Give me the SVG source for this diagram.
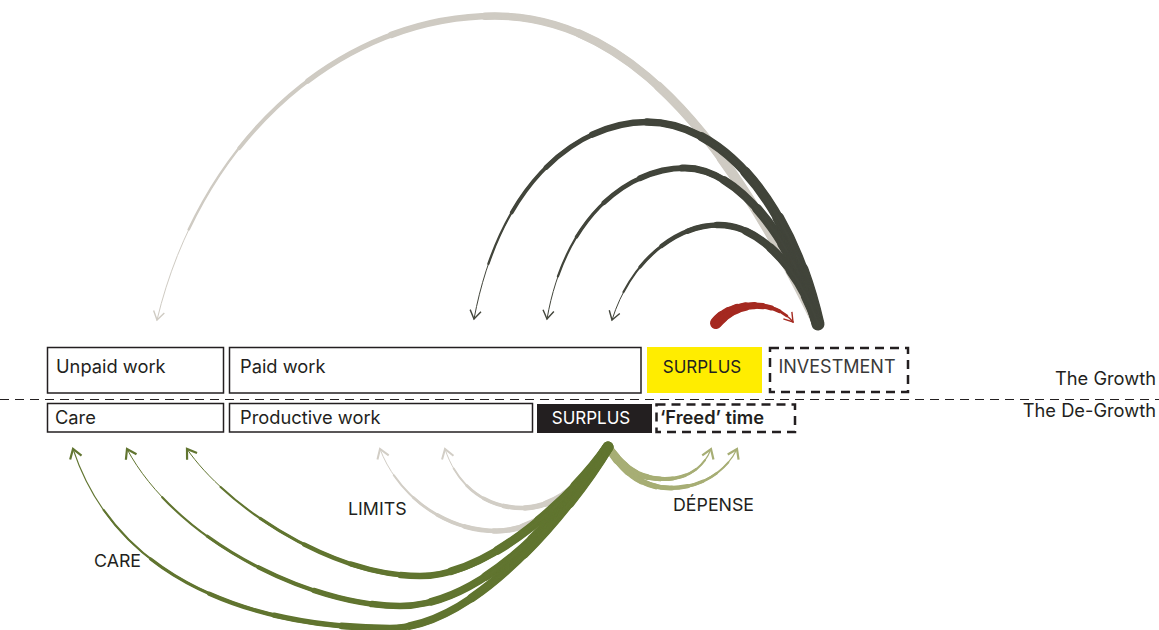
<svg xmlns="http://www.w3.org/2000/svg" width="1159" height="630" viewBox="0 0 1159 630">
<style>
.t{font-family:Inter,'Liberation Sans',Arial,sans-serif;font-size:18.3px;fill:#231f20}
.cap{font-size:17.8px}
.box{fill:#fff;stroke:#231f20;stroke-width:1.5}
.dbox{fill:none;stroke:#231f20;stroke-width:2.5;stroke-dasharray:9 6}
.c{fill:none;stroke-linecap:round;stroke-linejoin:round}
.lt{stroke:#cfcbc3}.dk{stroke:#42453b}.rd{stroke:#a52a21}.gr{stroke:#617530}.lm{stroke:#d2cec6}.dp{stroke:#a7ae75}
.s1{stroke-dasharray:10 300}.s2{stroke-dasharray:20 300}.s3{stroke-dasharray:30 300}
.s4{stroke-dasharray:40 300}.s5{stroke-dasharray:50 300}.s6{stroke-dasharray:60 300}
.s7{stroke-dasharray:70 300}.s8{stroke-dasharray:80 300}.s9{stroke-dasharray:90 300}
</style>
<defs>
<marker id="ah-lt" viewBox="-12 -8 14 16" refX="0" refY="0" markerWidth="14" markerHeight="16" markerUnits="userSpaceOnUse" orient="auto" overflow="visible"><path d="M-8.5,-5.5L0,0L-8.5,5.5" fill="none" stroke="#cfcbc3" stroke-width="1.4"/></marker>
<marker id="ah-dk" viewBox="-12 -8 14 16" refX="0" refY="0" markerWidth="14" markerHeight="16" markerUnits="userSpaceOnUse" orient="auto" overflow="visible"><path d="M-8.5,-5.5L0,0L-8.5,5.5" fill="none" stroke="#42453b" stroke-width="1.4"/></marker>
<marker id="ah-rd" viewBox="-12 -8 14 16" refX="0" refY="0" markerWidth="14" markerHeight="16" markerUnits="userSpaceOnUse" orient="auto" overflow="visible"><path d="M-8.5,-5.5L0,0L-8.5,5.5" fill="none" stroke="#a52a21" stroke-width="1.4"/></marker>
<marker id="ah-gr" viewBox="-12 -8 14 16" refX="0" refY="0" markerWidth="14" markerHeight="16" markerUnits="userSpaceOnUse" orient="auto" overflow="visible"><path d="M-9,-6L0,0L-9,6" fill="none" stroke="#617530" stroke-width="2.2"/></marker>
<marker id="ah-lm" viewBox="-12 -8 14 16" refX="0" refY="0" markerWidth="14" markerHeight="16" markerUnits="userSpaceOnUse" orient="auto" overflow="visible"><path d="M-9,-6L0,0L-9,6" fill="none" stroke="#d2cec6" stroke-width="2"/></marker>
<marker id="ah-dp" viewBox="-12 -8 14 16" refX="0" refY="0" markerWidth="14" markerHeight="16" markerUnits="userSpaceOnUse" orient="auto" overflow="visible"><path d="M-9,-6L0,0L-9,6" fill="none" stroke="#a7ae75" stroke-width="2.2"/></marker>
<path id="p-lt" pathLength="100" d="M818,324 C743,171 645,16 495,16 C340,16 200,140 157,320"/>
<path id="p-d1" pathLength="100" d="M818,324 C790,200 720,122 647,122 C580,122 500,180 474,319"/>
<path id="p-d2" pathLength="100" d="M818,324 C795,245 740,168 685,168 C630,168 565,215 547,319"/>
<path id="p-d3" pathLength="100" d="M818,324 C800,270 760,225 719,225 C675,225 630,262 612,320"/>
<path id="p-rd" pathLength="100" d="M716,323 C735,300 775,300 793,322"/>
<path id="p-g1" pathLength="100" d="M608,447 C575,495 490,576 420,576 C330,576 225,505 187,449"/>
<path id="p-g2" pathLength="100" d="M608,447 C578,495 490,606 400,606 C310,606 175,540 127,449"/>
<path id="p-g3" pathLength="100" d="M608,447 C580,495 480,628 390,628 C270,628 120,590 73,449"/>
<path id="p-l1" pathLength="100" d="M608,447 C585,490 540,531 497,531 C440,531 395,490 380,449"/>
<path id="p-l2" pathLength="100" d="M608,447 C590,480 555,508 523,508 C480,508 455,480 445,449"/>
<path id="p-e1" pathLength="100" d="M608,447 C625,470 640,479 665,479 C690,479 705,465 711,449"/>
<path id="p-e2" pathLength="100" d="M608,447 C625,475 645,488 670,488 C705,488 728,468 737,449"/>
</defs>
<rect width="1159" height="630" fill="#fff"/>

<g id="divider">
<line x1="0" y1="399.5" x2="1159" y2="399.5" stroke="#231f20" stroke-width="1.2" stroke-dasharray="9 6"/>
<text class="t" x="1156" y="385" text-anchor="end">The Growth</text>
<text class="t" x="1156" y="417" text-anchor="end">The De-Growth</text>
</g>

<g id="connectors">
<g id="arc-unpaid" class="c lt">
<use href="#p-lt" class="s1" stroke-width="11"/><use href="#p-lt" class="s2" stroke-width="10"/><use href="#p-lt" class="s3" stroke-width="9"/><use href="#p-lt" class="s4" stroke-width="8.3"/><use href="#p-lt" class="s5" stroke-width="7.5"/><use href="#p-lt" class="s6" stroke-width="6.5"/><use href="#p-lt" class="s7" stroke-width="5.2"/><use href="#p-lt" class="s8" stroke-width="3.9"/><use href="#p-lt" class="s9" stroke-width="2.5"/><use href="#p-lt" stroke-width="1" marker-end="url(#ah-lt)"/>
</g>
<g id="arc-paid1" class="c dk">
<use href="#p-d1" class="s1" stroke-width="13"/><use href="#p-d1" class="s2" stroke-width="11.7"/><use href="#p-d1" class="s3" stroke-width="10.3"/><use href="#p-d1" class="s4" stroke-width="9"/><use href="#p-d1" class="s5" stroke-width="7.7"/><use href="#p-d1" class="s6" stroke-width="6.3"/><use href="#p-d1" class="s7" stroke-width="5"/><use href="#p-d1" class="s8" stroke-width="3.7"/><use href="#p-d1" class="s9" stroke-width="2.3"/><use href="#p-d1" stroke-width="1" marker-end="url(#ah-dk)"/>
</g>
<g id="arc-paid2" class="c dk">
<use href="#p-d2" class="s1" stroke-width="12"/><use href="#p-d2" class="s2" stroke-width="10.8"/><use href="#p-d2" class="s3" stroke-width="9.6"/><use href="#p-d2" class="s4" stroke-width="8.3"/><use href="#p-d2" class="s5" stroke-width="7.1"/><use href="#p-d2" class="s6" stroke-width="5.9"/><use href="#p-d2" class="s7" stroke-width="4.7"/><use href="#p-d2" class="s8" stroke-width="3.4"/><use href="#p-d2" class="s9" stroke-width="2.2"/><use href="#p-d2" stroke-width="1" marker-end="url(#ah-dk)"/>
</g>
<g id="arc-paid3" class="c dk">
<use href="#p-d3" class="s1" stroke-width="11"/><use href="#p-d3" class="s2" stroke-width="9.9"/><use href="#p-d3" class="s3" stroke-width="8.8"/><use href="#p-d3" class="s4" stroke-width="7.7"/><use href="#p-d3" class="s5" stroke-width="6.6"/><use href="#p-d3" class="s6" stroke-width="5.4"/><use href="#p-d3" class="s7" stroke-width="4.3"/><use href="#p-d3" class="s8" stroke-width="3.2"/><use href="#p-d3" class="s9" stroke-width="2.1"/><use href="#p-d3" stroke-width="1" marker-end="url(#ah-dk)"/>
</g>
<g id="arc-surplus-investment" class="c rd">
<use href="#p-rd" class="s1" stroke-width="12"/><use href="#p-rd" class="s2" stroke-width="10.8"/><use href="#p-rd" class="s3" stroke-width="9.7"/><use href="#p-rd" class="s4" stroke-width="8.5"/><use href="#p-rd" class="s5" stroke-width="7.3"/><use href="#p-rd" class="s6" stroke-width="6.2"/><use href="#p-rd" class="s7" stroke-width="5"/><use href="#p-rd" class="s8" stroke-width="3.8"/><use href="#p-rd" class="s9" stroke-width="2.7"/><use href="#p-rd" stroke-width="1.5" marker-end="url(#ah-rd)"/>
</g>
<g id="arc-limits1" class="c lm">
<use href="#p-l1" class="s1" stroke-width="9"/><use href="#p-l1" class="s2" stroke-width="8.1"/><use href="#p-l1" class="s3" stroke-width="7.2"/><use href="#p-l1" class="s4" stroke-width="6.3"/><use href="#p-l1" class="s5" stroke-width="5.4"/><use href="#p-l1" class="s6" stroke-width="4.6"/><use href="#p-l1" class="s7" stroke-width="3.7"/><use href="#p-l1" class="s8" stroke-width="2.8"/><use href="#p-l1" class="s9" stroke-width="1.9"/><use href="#p-l1" stroke-width="1" marker-end="url(#ah-lm)"/>
</g>
<g id="arc-limits2" class="c lm">
<use href="#p-l2" class="s1" stroke-width="9"/><use href="#p-l2" class="s2" stroke-width="8.1"/><use href="#p-l2" class="s3" stroke-width="7.2"/><use href="#p-l2" class="s4" stroke-width="6.3"/><use href="#p-l2" class="s5" stroke-width="5.4"/><use href="#p-l2" class="s6" stroke-width="4.6"/><use href="#p-l2" class="s7" stroke-width="3.7"/><use href="#p-l2" class="s8" stroke-width="2.8"/><use href="#p-l2" class="s9" stroke-width="1.9"/><use href="#p-l2" stroke-width="1" marker-end="url(#ah-lm)"/>
</g>
<g id="arc-depense1" class="c dp">
<use href="#p-e1" class="s1" stroke-width="8"/><use href="#p-e1" class="s2" stroke-width="7.2"/><use href="#p-e1" class="s3" stroke-width="6.5"/><use href="#p-e1" class="s4" stroke-width="5.7"/><use href="#p-e1" class="s5" stroke-width="5"/><use href="#p-e1" class="s6" stroke-width="4.2"/><use href="#p-e1" class="s7" stroke-width="3.5"/><use href="#p-e1" class="s8" stroke-width="2.7"/><use href="#p-e1" class="s9" stroke-width="2"/><use href="#p-e1" stroke-width="1.2" marker-end="url(#ah-dp)"/>
</g>
<g id="arc-depense2" class="c dp">
<use href="#p-e2" class="s1" stroke-width="8"/><use href="#p-e2" class="s2" stroke-width="7.2"/><use href="#p-e2" class="s3" stroke-width="6.5"/><use href="#p-e2" class="s4" stroke-width="5.7"/><use href="#p-e2" class="s5" stroke-width="5"/><use href="#p-e2" class="s6" stroke-width="4.2"/><use href="#p-e2" class="s7" stroke-width="3.5"/><use href="#p-e2" class="s8" stroke-width="2.7"/><use href="#p-e2" class="s9" stroke-width="2"/><use href="#p-e2" stroke-width="1.2" marker-end="url(#ah-dp)"/>
</g>
<g id="arc-care1" class="c gr">
<use href="#p-g1" class="s1" stroke-width="11"/><use href="#p-g1" class="s2" stroke-width="9.9"/><use href="#p-g1" class="s3" stroke-width="8.8"/><use href="#p-g1" class="s4" stroke-width="7.7"/><use href="#p-g1" class="s5" stroke-width="6.6"/><use href="#p-g1" class="s6" stroke-width="5.4"/><use href="#p-g1" class="s7" stroke-width="4.3"/><use href="#p-g1" class="s8" stroke-width="3.2"/><use href="#p-g1" class="s9" stroke-width="2.1"/><use href="#p-g1" stroke-width="1" marker-end="url(#ah-gr)"/>
</g>
<g id="arc-care2" class="c gr">
<use href="#p-g2" class="s1" stroke-width="11"/><use href="#p-g2" class="s2" stroke-width="9.9"/><use href="#p-g2" class="s3" stroke-width="8.8"/><use href="#p-g2" class="s4" stroke-width="7.7"/><use href="#p-g2" class="s5" stroke-width="6.6"/><use href="#p-g2" class="s6" stroke-width="5.4"/><use href="#p-g2" class="s7" stroke-width="4.3"/><use href="#p-g2" class="s8" stroke-width="3.2"/><use href="#p-g2" class="s9" stroke-width="2.1"/><use href="#p-g2" stroke-width="1" marker-end="url(#ah-gr)"/>
</g>
<g id="arc-care3" class="c gr">
<use href="#p-g3" class="s1" stroke-width="11"/><use href="#p-g3" class="s2" stroke-width="9.9"/><use href="#p-g3" class="s3" stroke-width="8.8"/><use href="#p-g3" class="s4" stroke-width="7.7"/><use href="#p-g3" class="s5" stroke-width="6.6"/><use href="#p-g3" class="s6" stroke-width="5.4"/><use href="#p-g3" class="s7" stroke-width="4.3"/><use href="#p-g3" class="s8" stroke-width="3.2"/><use href="#p-g3" class="s9" stroke-width="2.1"/><use href="#p-g3" stroke-width="1.1" marker-end="url(#ah-gr)"/>
</g>
<text class="t cap" x="348" y="515">LIMITS</text>
<text class="t cap" x="673" y="511">DÉPENSE</text>
<text class="t cap" x="94" y="567">CARE</text>
</g>

<g id="node-unpaid"><rect class="box" x="47.5" y="347.5" width="176" height="45.5"/><text class="t" x="56" y="373">Unpaid work</text></g>
<g id="node-paid"><rect class="box" x="229.5" y="347.5" width="411.5" height="45.5"/><text class="t" x="240" y="373">Paid work</text></g>
<g id="node-surplus-growth"><rect x="647" y="347" width="115" height="46" fill="#ffed00"/><text class="t" x="702" y="373" text-anchor="middle" style="font-size:17px">SURPLUS</text></g>
<g id="node-investment"><rect class="dbox" x="770" y="348" width="138" height="44"/><text class="t" x="837" y="373" text-anchor="middle" style="fill:#3a3a3a;font-size:18px">INVESTMENT</text></g>
<g id="node-care"><rect class="box" x="47.5" y="403.5" width="176" height="28.5"/><text class="t" x="55" y="424">Care</text></g>
<g id="node-productive"><rect class="box" x="229.5" y="403.5" width="303" height="28.5"/><text class="t" x="240" y="424">Productive work</text></g>
<g id="node-surplus-degrowth"><rect x="537" y="404" width="115" height="29" fill="#231f20"/><text class="t" x="591" y="424" text-anchor="middle" style="fill:#fff;font-size:17px">SURPLUS</text></g>
<g id="node-freed"><rect class="dbox" x="656.5" y="404.5" width="138.5" height="27.5"/><text class="t" x="660" y="424" style="font-weight:600">‘Freed’ time</text></g>
</svg>
